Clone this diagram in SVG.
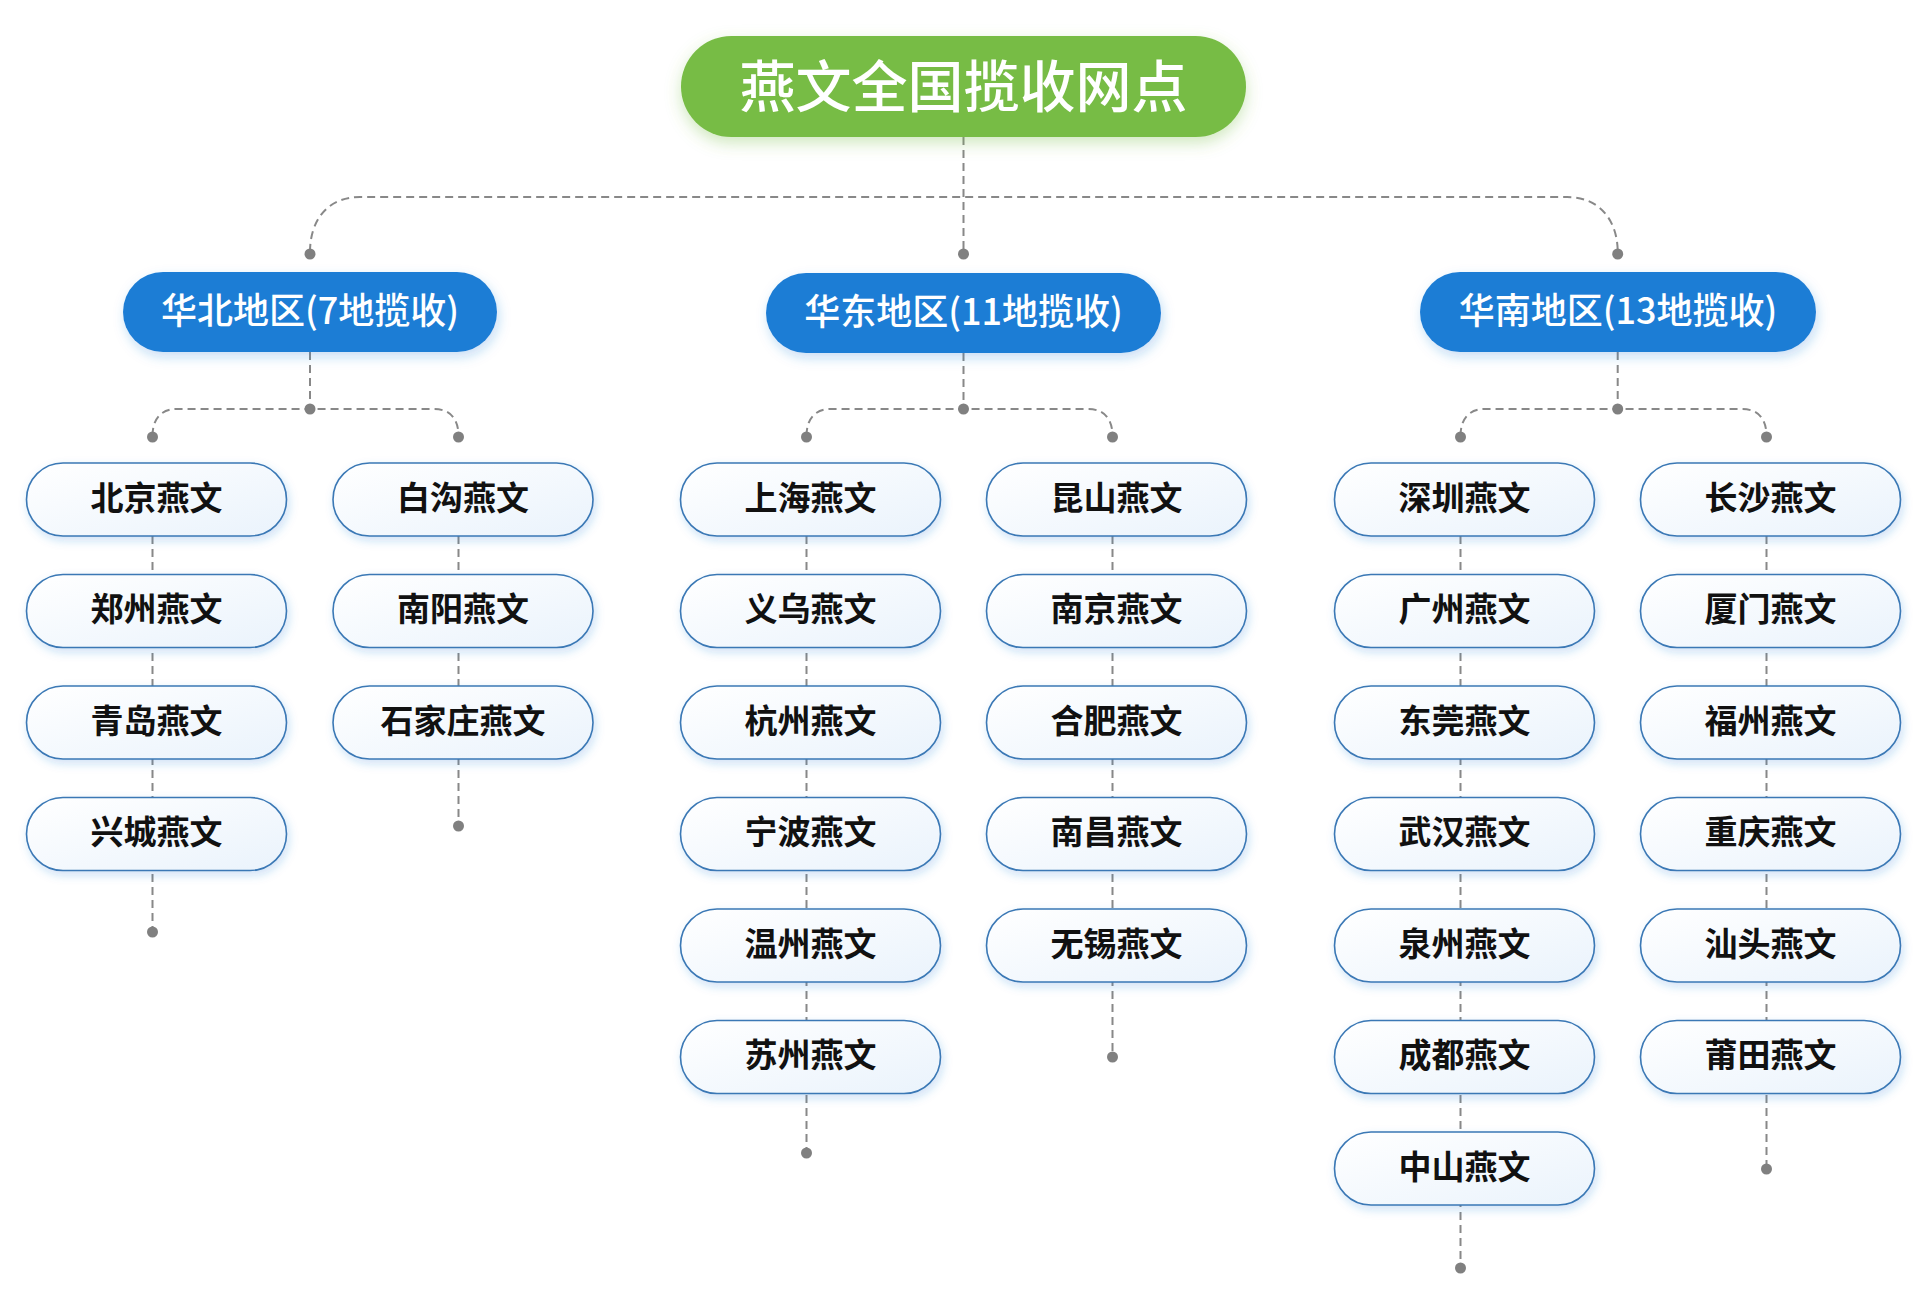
<svg xmlns="http://www.w3.org/2000/svg" width="1927" height="1303" viewBox="0 0 1927 1303">
<style>
.conn{fill:none;stroke:#888;stroke-width:2;stroke-dasharray:8 5}
.dot{fill:#808080}
.leaf rect{fill:url(#leafGrad);stroke:#3a78b5;stroke-width:1.6;filter:url(#leafShadow)}
.leaf text{font-family:"Noto Sans CJK SC","Noto Sans",sans-serif;font-size:33px;font-weight:600;fill:#111;text-anchor:middle;dominant-baseline:central}
.region rect{fill:#1e7dd5;filter:url(#regShadow)}
.region text{font-family:"Noto Sans CJK SC","Noto Sans",sans-serif;font-size:36px;font-weight:500;fill:#fff;text-anchor:middle;dominant-baseline:central}
.root rect{fill:#77bc44;filter:url(#rootShadow)}
.root text{font-family:"Noto Sans CJK SC","Noto Sans",sans-serif;font-size:56px;font-weight:500;fill:#fff;text-anchor:middle;dominant-baseline:central}
</style>
<defs>
<linearGradient id="leafGrad" x1="0" y1="0" x2="1" y2="1">
<stop offset="0" stop-color="#ffffff"/>
<stop offset="1" stop-color="#eaf3fc"/>
</linearGradient>
<filter id="leafShadow" x="-20%" y="-40%" width="140%" height="190%">
<feDropShadow dx="2" dy="4" stdDeviation="5" flood-color="#1e7dd5" flood-opacity="0.22"/>
</filter>
<filter id="regShadow" x="-20%" y="-40%" width="140%" height="190%">
<feDropShadow dx="2" dy="5" stdDeviation="6" flood-color="#1e7dd5" flood-opacity="0.25"/>
</filter>
<filter id="rootShadow" x="-20%" y="-40%" width="140%" height="190%">
<feDropShadow dx="0" dy="6" stdDeviation="8" flood-color="#77bc44" flood-opacity="0.35"/>
</filter>
</defs>
<rect width="1927" height="1303" fill="#ffffff"/>

<g id="connectors">
<path class="conn" d="M963.5 137 V254"/>
<path class="conn" d="M310 252 C310 222 326 197 360 197 H1567 C1601 197 1617.7 222 1617.7 252"/>
<path class="conn" d="M310 352 V409"/>
<path class="conn" d="M963.5 353 V409"/>
<path class="conn" d="M1617.7 352 V409"/>
<path class="conn" d="M152.5 436 C152.5 420 160 409 177 409 H434 C451 409 458.5 420 458.5 436"/>
<path class="conn" d="M806.5 436 C806.5 420 814 409 831 409 H1088 C1105 409 1112.5 420 1112.5 436"/>
<path class="conn" d="M1460.5 436 C1460.5 420 1468 409 1485 409 H1742 C1759 409 1766.5 420 1766.5 436"/>
<path class="conn" d="M152.5 536 V932"/>
<path class="conn" d="M458.5 536 V826"/>
<path class="conn" d="M806.5 536 V1153"/>
<path class="conn" d="M1112.5 536 V1057"/>
<path class="conn" d="M1460.5 536 V1268"/>
<path class="conn" d="M1766.5 536 V1169"/>
<circle class="dot" cx="963.5" cy="254" r="5.5"/>
<circle class="dot" cx="310" cy="254" r="5.5"/>
<circle class="dot" cx="1617.7" cy="254" r="5.5"/>
<circle class="dot" cx="310" cy="409" r="5.5"/>
<circle class="dot" cx="963.5" cy="409" r="5.5"/>
<circle class="dot" cx="1617.7" cy="409" r="5.5"/>
<circle class="dot" cx="152.5" cy="437" r="5.5"/>
<circle class="dot" cx="458.5" cy="437" r="5.5"/>
<circle class="dot" cx="806.5" cy="437" r="5.5"/>
<circle class="dot" cx="1112.5" cy="437" r="5.5"/>
<circle class="dot" cx="1460.5" cy="437" r="5.5"/>
<circle class="dot" cx="1766.5" cy="437" r="5.5"/>
<circle class="dot" cx="152.5" cy="932" r="5.5"/>
<circle class="dot" cx="458.5" cy="826" r="5.5"/>
<circle class="dot" cx="806.5" cy="1153" r="5.5"/>
<circle class="dot" cx="1112.5" cy="1057" r="5.5"/>
<circle class="dot" cx="1460.5" cy="1268" r="5.5"/>
<circle class="dot" cx="1766.5" cy="1169" r="5.5"/>
</g>

<g id="root" class="root">
<rect x="681" y="36" width="565" height="101" rx="50.5"/>
<text x="963.5" y="82.5">燕文全国揽收网点</text>
</g>

<g id="region-north" class="region">
<rect x="123" y="272" width="374" height="80" rx="40"/>
<text x="310" y="308">华北地区(7地揽收)</text>
</g>
<g id="region-east" class="region">
<rect x="766" y="273" width="395" height="80" rx="40"/>
<text x="963.5" y="309">华东地区(11地揽收)</text>
</g>
<g id="region-south" class="region">
<rect x="1420" y="272" width="396" height="80" rx="40"/>
<text x="1618" y="308">华南地区(13地揽收)</text>
</g>

<g id="n-beijing" class="leaf"><rect x="26.5" y="463" width="260" height="73" rx="36.5"/><text x="156.5" y="495.5">北京燕文</text></g>
<g id="n-zhengzhou" class="leaf"><rect x="26.5" y="574.5" width="260" height="73" rx="36.5"/><text x="156.5" y="607">郑州燕文</text></g>
<g id="n-qingdao" class="leaf"><rect x="26.5" y="686" width="260" height="73" rx="36.5"/><text x="156.5" y="718.5">青岛燕文</text></g>
<g id="n-xingcheng" class="leaf"><rect x="26.5" y="797.5" width="260" height="73" rx="36.5"/><text x="156.5" y="830">兴城燕文</text></g>

<g id="n-baigou" class="leaf"><rect x="333" y="463" width="260" height="73" rx="36.5"/><text x="463" y="495.5">白沟燕文</text></g>
<g id="n-nanyang" class="leaf"><rect x="333" y="574.5" width="260" height="73" rx="36.5"/><text x="463" y="607">南阳燕文</text></g>
<g id="n-shijiazhuang" class="leaf"><rect x="333" y="686" width="260" height="73" rx="36.5"/><text x="463" y="718.5">石家庄燕文</text></g>

<g id="n-shanghai" class="leaf"><rect x="680.5" y="463" width="260" height="73" rx="36.5"/><text x="810.5" y="495.5">上海燕文</text></g>
<g id="n-yiwu" class="leaf"><rect x="680.5" y="574.5" width="260" height="73" rx="36.5"/><text x="810.5" y="607">义乌燕文</text></g>
<g id="n-hangzhou" class="leaf"><rect x="680.5" y="686" width="260" height="73" rx="36.5"/><text x="810.5" y="718.5">杭州燕文</text></g>
<g id="n-ningbo" class="leaf"><rect x="680.5" y="797.5" width="260" height="73" rx="36.5"/><text x="810.5" y="830">宁波燕文</text></g>
<g id="n-wenzhou" class="leaf"><rect x="680.5" y="909" width="260" height="73" rx="36.5"/><text x="810.5" y="941.5">温州燕文</text></g>
<g id="n-suzhou" class="leaf"><rect x="680.5" y="1020.5" width="260" height="73" rx="36.5"/><text x="810.5" y="1053">苏州燕文</text></g>

<g id="n-kunshan" class="leaf"><rect x="986.5" y="463" width="260" height="73" rx="36.5"/><text x="1116.5" y="495.5">昆山燕文</text></g>
<g id="n-nanjing" class="leaf"><rect x="986.5" y="574.5" width="260" height="73" rx="36.5"/><text x="1116.5" y="607">南京燕文</text></g>
<g id="n-hefei" class="leaf"><rect x="986.5" y="686" width="260" height="73" rx="36.5"/><text x="1116.5" y="718.5">合肥燕文</text></g>
<g id="n-nanchang" class="leaf"><rect x="986.5" y="797.5" width="260" height="73" rx="36.5"/><text x="1116.5" y="830">南昌燕文</text></g>
<g id="n-wuxi" class="leaf"><rect x="986.5" y="909" width="260" height="73" rx="36.5"/><text x="1116.5" y="941.5">无锡燕文</text></g>

<g id="n-shenzhen" class="leaf"><rect x="1334.5" y="463" width="260" height="73" rx="36.5"/><text x="1464.5" y="495.5">深圳燕文</text></g>
<g id="n-guangzhou" class="leaf"><rect x="1334.5" y="574.5" width="260" height="73" rx="36.5"/><text x="1464.5" y="607">广州燕文</text></g>
<g id="n-dongguan" class="leaf"><rect x="1334.5" y="686" width="260" height="73" rx="36.5"/><text x="1464.5" y="718.5">东莞燕文</text></g>
<g id="n-wuhan" class="leaf"><rect x="1334.5" y="797.5" width="260" height="73" rx="36.5"/><text x="1464.5" y="830">武汉燕文</text></g>
<g id="n-quanzhou" class="leaf"><rect x="1334.5" y="909" width="260" height="73" rx="36.5"/><text x="1464.5" y="941.5">泉州燕文</text></g>
<g id="n-chengdu" class="leaf"><rect x="1334.5" y="1020.5" width="260" height="73" rx="36.5"/><text x="1464.5" y="1053">成都燕文</text></g>
<g id="n-zhongshan" class="leaf"><rect x="1334.5" y="1132" width="260" height="73" rx="36.5"/><text x="1464.5" y="1164.5">中山燕文</text></g>

<g id="n-changsha" class="leaf"><rect x="1640.5" y="463" width="260" height="73" rx="36.5"/><text x="1770.5" y="495.5">长沙燕文</text></g>
<g id="n-xiamen" class="leaf"><rect x="1640.5" y="574.5" width="260" height="73" rx="36.5"/><text x="1770.5" y="607">厦门燕文</text></g>
<g id="n-fuzhou" class="leaf"><rect x="1640.5" y="686" width="260" height="73" rx="36.5"/><text x="1770.5" y="718.5">福州燕文</text></g>
<g id="n-chongqing" class="leaf"><rect x="1640.5" y="797.5" width="260" height="73" rx="36.5"/><text x="1770.5" y="830">重庆燕文</text></g>
<g id="n-shantou" class="leaf"><rect x="1640.5" y="909" width="260" height="73" rx="36.5"/><text x="1770.5" y="941.5">汕头燕文</text></g>
<g id="n-putian" class="leaf"><rect x="1640.5" y="1020.5" width="260" height="73" rx="36.5"/><text x="1770.5" y="1053">莆田燕文</text></g>
</svg>
